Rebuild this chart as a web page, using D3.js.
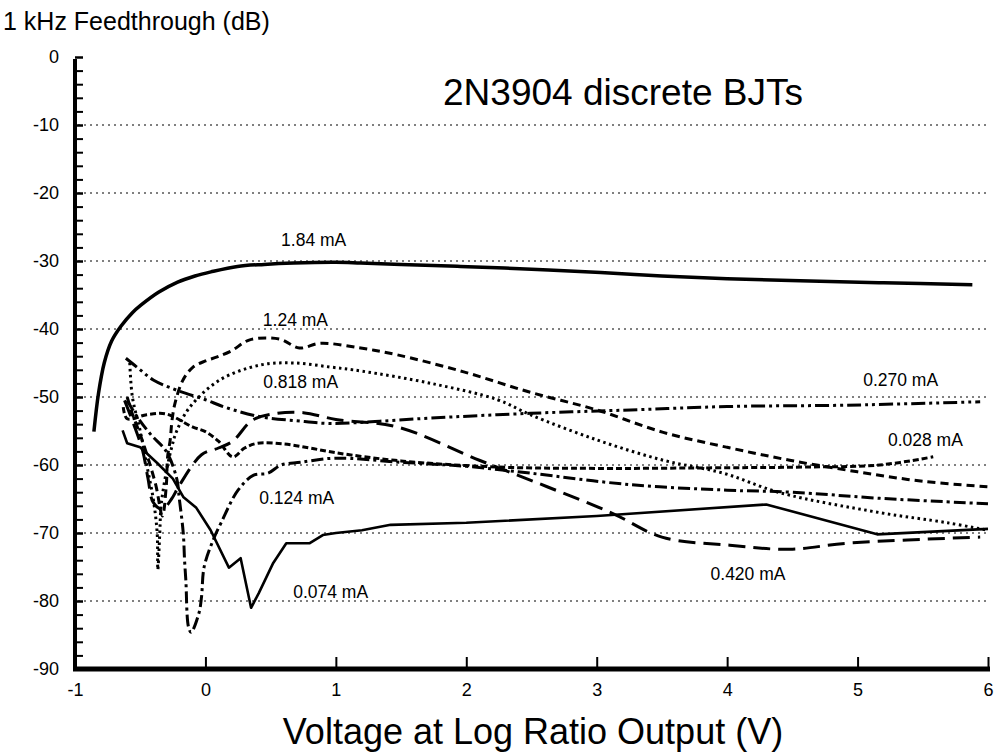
<!DOCTYPE html>
<html>
<head>
<meta charset="utf-8">
<script src="https://cdn.jsdelivr.net/npm/d3@7"></script>
<style>
  body { margin: 0; background: #fff; }
  #chart-area { width: 1002px; height: 754px; }
  text { font-family: "Liberation Sans", Arial, Helvetica, sans-serif; fill: #000; }
  .grid line { stroke: #000; stroke-width: 1; stroke-dasharray: 2,4; }
  .curve { fill: none; stroke: #000; stroke-linejoin: round; }
</style>
</head>
<body>
<div id="chart-area"></div>
<script>

// Series: [volts, dB]
const mA184 = [[-0.855,-55.1],[-0.82,-49.5],[-0.776,-45.0],[-0.72,-41.8],[-0.648,-39.6],[-0.56,-37.6],[-0.495,-36.5],[-0.36,-34.6],[-0.213,-33.1],[-0.08,-32.2],[0.042,-31.6],[0.246,-30.8],[0.45,-30.5],[0.677,-30.3],[1.0,-30.2],[1.19,-30.3],[1.5,-30.5],[1.956,-30.8],[2.5,-31.2],[3.03,-31.7],[3.5,-32.2],[4.0,-32.6],[4.56,-32.9],[5.2,-33.2],[5.88,-33.5]];

const mA124 = [[-0.6,-50],[-0.56,-52.5],[-0.5,-55.5],[-0.44,-59],[-0.38,-63],[-0.33,-67.5],[-0.3,-63],[-0.29,-58.8],[-0.27,-56.3],[-0.256,-53.4],[-0.233,-50.9],[-0.172,-47.5],[-0.095,-45.6],[0.0,-44.7],[0.09,-44.1],[0.2,-43.2],[0.34,-41.6],[0.57,-41.5],[0.72,-42.8],[0.88,-42.1],[1.19,-42.8],[1.47,-43.8],[1.98,-46.3],[2.49,-49.3],[3.0,-51.9],[3.51,-55.2],[4.0,-57.4],[4.48,-59.3],[5.0,-61],[5.5,-62.4],[6.0,-63.2]];

const mA818 = [[-0.58,-45],[-0.56,-50],[-0.5,-55],[-0.45,-60],[-0.4,-65],[-0.37,-70],[-0.365,-75.4],[-0.35,-70],[-0.34,-66],[-0.3,-61],[-0.26,-57.5],[-0.22,-55],[-0.12,-51.5],[0.11,-47.5],[0.42,-45.3],[0.68,-45],[0.96,-45.6],[1.2,-46.2],[1.73,-48],[2.24,-50.4],[2.49,-52.6],[3.0,-56.3],[3.51,-59.3],[3.97,-61.2],[4.41,-64.1],[5.17,-67],[5.69,-68.5],[6.0,-69.6]];

const mA270 = [[-0.61,-44.3],[-0.5,-46],[-0.4,-47.5],[-0.22,-49],[0.0,-50.4],[0.15,-51.5],[0.42,-52.9],[0.7,-53.5],[0.96,-53.9],[1.3,-53.6],[1.73,-53.1],[2.49,-52.4],[3.26,-51.9],[4.0,-51.4],[4.92,-51.2],[5.94,-50.7]];

const mA028 = [[-0.63,-51.5],[-0.6,-53.2],[-0.45,-52.6],[-0.3,-52.5],[-0.1,-54.4],[0.0,-55.1],[0.1,-56.5],[0.21,-58.8],[0.3,-57.5],[0.4,-56.8],[0.6,-56.9],[0.8,-57.5],[1.0,-58.2],[1.5,-59.4],[2.24,-60.3],[3.0,-60.5],[4.0,-60.4],[4.6,-60.3],[5.17,-60],[5.58,-58.8]];

const mA124b = [[-0.6,-50.5],[-0.52,-53],[-0.42,-55.5],[-0.3,-58],[-0.22,-62],[-0.2,-65],[-0.17,-70],[-0.16,-74],[-0.15,-77],[-0.13,-83.8],[-0.11,-84.6],[-0.05,-81.8],[-0.03,-79.4],[-0.01,-75],[0.06,-71],[0.12,-68.5],[0.25,-63.7],[0.37,-61.5],[0.48,-61.2],[0.58,-60],[0.73,-59.6],[0.99,-59],[1.5,-59.6],[2.0,-60.2],[2.49,-61.2],[3.26,-62.9],[4.0,-63.7],[4.5,-64],[5.17,-64.9],[6.0,-65.7]];

const mA074 = [[-0.635,-54.9],[-0.6,-56.8],[-0.5,-57.4],[-0.37,-59.7],[-0.25,-62],[-0.17,-64.7],[-0.07,-66.3],[0.04,-69.6],[0.18,-75.1],[0.27,-73.7],[0.35,-81],[0.41,-78.8],[0.52,-74.4],[0.62,-71.5],[0.8,-71.5],[0.9,-70.3],[1.0,-70.0],[1.2,-69.6],[1.42,-68.8],[2.0,-68.5],[3.0,-67.5],[4.3,-65.8],[5.15,-70.2],[6.0,-69.4]];

const mA420 = [[-0.62,-50.5],[-0.55,-54],[-0.48,-58],[-0.44,-62],[-0.4,-65.5],[-0.33,-66.5],[-0.26,-65],[-0.2,-63],[-0.03,-58.5],[0.1,-57.5],[0.21,-56.5],[0.36,-53.4],[0.55,-52.4],[0.75,-52.3],[1.0,-53.3],[1.47,-54.4],[2.1,-59.3],[2.62,-63.2],[3.12,-67.1],[3.5,-70.6],[4.02,-71.8],[4.48,-72.4],[4.92,-71.5],[5.94,-70.6]];

// curve labels: text, volts (centre), dB (baseline)
const curveLabels = [
    ["1.84 mA", 0.83, -27.8],
    ["1.24 mA", 0.69, -39.6],
    ["0.818 mA", 0.73, -48.7],
    ["0.270 mA", 5.33, -48.4],
    ["0.028 mA", 5.52, -57.2],
    ["0.124 mA", 0.70, -65.7],
    ["0.074 mA", 0.96, -79.6],
    ["0.420 mA", 4.16, -76.9]
];

const xTicks = [-1, 0, 1, 2, 3, 4, 5, 6];
const yTicks = [0, -10, -20, -30, -40, -50, -60, -70, -80, -90];
const yMinorTicks = d3.range(-90, 1, 2);

const series = [
    { data: mA184, width: 3.5, dash: null, smooth: true },
    { data: mA124, width: 3, dash: "8,5", smooth: true },
    { data: mA818, width: 3, dash: "2.5,3.5", smooth: true },
    { data: mA270, width: 3, dash: "14,4,3,4,3,4", smooth: true },
    { data: mA028, width: 3, dash: "6,3", smooth: true },
    { data: mA124b, width: 3, dash: "12,4,3,4", smooth: true },
    { data: mA074, width: 2.6, dash: null, smooth: false },
    { data: mA420, width: 3, dash: "17,8", smooth: true }
];

let vis = {};
vis.margin = {top: 57, right: 14, bottom: 85, left: 75};
vis.width = 1002 - vis.margin.left - vis.margin.right;
vis.height = 754 - vis.margin.top - vis.margin.bottom;

vis.svg = d3.select("#chart-area").append("svg")
    .attr("width", 1002)
    .attr("height", 754);

vis.g = vis.svg.append("g")
    .attr("transform", "translate(" + vis.margin.left + "," + vis.margin.top + ")");

// Scales
vis.x = d3.scaleLinear().domain([-1, 6]).range([0, vis.width]);
vis.y = d3.scaleLinear().domain([-90, 0]).range([vis.height, 0]);

// Dotted grid lines
vis.g.append("g")
    .attr("class", "grid")
    .selectAll("line")
    .data(yTicks.filter(d => d > -90 && d < 0))
    .enter().append("line")
    .attr("x1", 3)
    .attr("x2", vis.width)
    .attr("y1", d => vis.y(d))
    .attr("y2", d => vis.y(d));

// Curves
series.forEach(function(s) {
    let line = d3.line()
        .x(d => vis.x(d[0]))
        .y(d => vis.y(d[1]))
        .curve(s.smooth ? d3.curveCatmullRom.alpha(0.5) : d3.curveLinear);
    vis.g.append("path")
        .datum(s.data)
        .attr("class", "curve")
        .attr("d", line)
        .attr("stroke-width", s.width)
        .attr("stroke-dasharray", s.dash);
});

// Y axis: minor ticks then labelled major ticks (both pointing inward)
vis.g.append("g")
    .call(d3.axisLeft(vis.y).tickValues(yMinorTicks).tickSizeInner(-8).tickSizeOuter(0).tickFormat(""))
    .call(g => g.select(".domain").remove())
    .selectAll("line").attr("stroke-width", 2);

vis.yAxis = d3.axisLeft(vis.y)
    .tickValues(yTicks)
    .tickSizeInner(-8)
    .tickSizeOuter(0)
    .tickPadding(16)
    .tickFormat(d3.format("d"));

vis.g.append("g")
    .attr("class", "y-axis")
    .call(vis.yAxis)
    .call(g => g.select(".domain").remove())
    .call(g => g.selectAll("line").attr("stroke-width", 2))
    .call(g => g.selectAll("text").style("font-size", "18px").text(d => String(d)));

// X axis
vis.xAxis = d3.axisBottom(vis.x)
    .tickValues(xTicks)
    .tickSizeInner(-12)
    .tickSizeOuter(0)
    .tickPadding(14)
    .tickFormat(d3.format("d"));

vis.g.append("g")
    .attr("class", "x-axis")
    .attr("transform", "translate(0," + vis.height + ")")
    .call(vis.xAxis)
    .call(g => g.select(".domain").remove())
    .call(g => g.selectAll("line").attr("stroke-width", 2))
    .call(g => g.selectAll("text").style("font-size", "18px").text(d => String(d)));

// Thick axis lines
vis.g.append("line")
    .attr("x1", 0).attr("x2", 0)
    .attr("y1", vis.y(0) + 2).attr("y2", vis.height)
    .attr("stroke", "#000").attr("stroke-width", 4);
vis.g.append("line")
    .attr("x1", -2).attr("x2", vis.width + 2)
    .attr("y1", vis.height).attr("y2", vis.height)
    .attr("stroke", "#000").attr("stroke-width", 5);

// Curve labels
vis.g.selectAll(".curve-label")
    .data(curveLabels)
    .enter().append("text")
    .attr("class", "curve-label")
    .attr("x", d => vis.x(d[1]))
    .attr("y", d => vis.y(d[2]))
    .attr("text-anchor", "middle")
    .style("font-size", "17.5px")
    .text(d => d[0]);

// Titles
vis.svg.append("text")
    .attr("x", 3).attr("y", 30)
    .style("font-size", "25px")
    .text("1 kHz Feedthrough (dB)");

vis.svg.append("text")
    .attr("x", 623).attr("y", 105)
    .attr("text-anchor", "middle")
    .style("font-size", "37px")
    .text("2N3904 discrete BJTs");

vis.svg.append("text")
    .attr("x", 533).attr("y", 744)
    .attr("text-anchor", "middle")
    .style("font-size", "36px")
    .text("Voltage at Log Ratio Output (V)");

</script>
</body>
</html>
